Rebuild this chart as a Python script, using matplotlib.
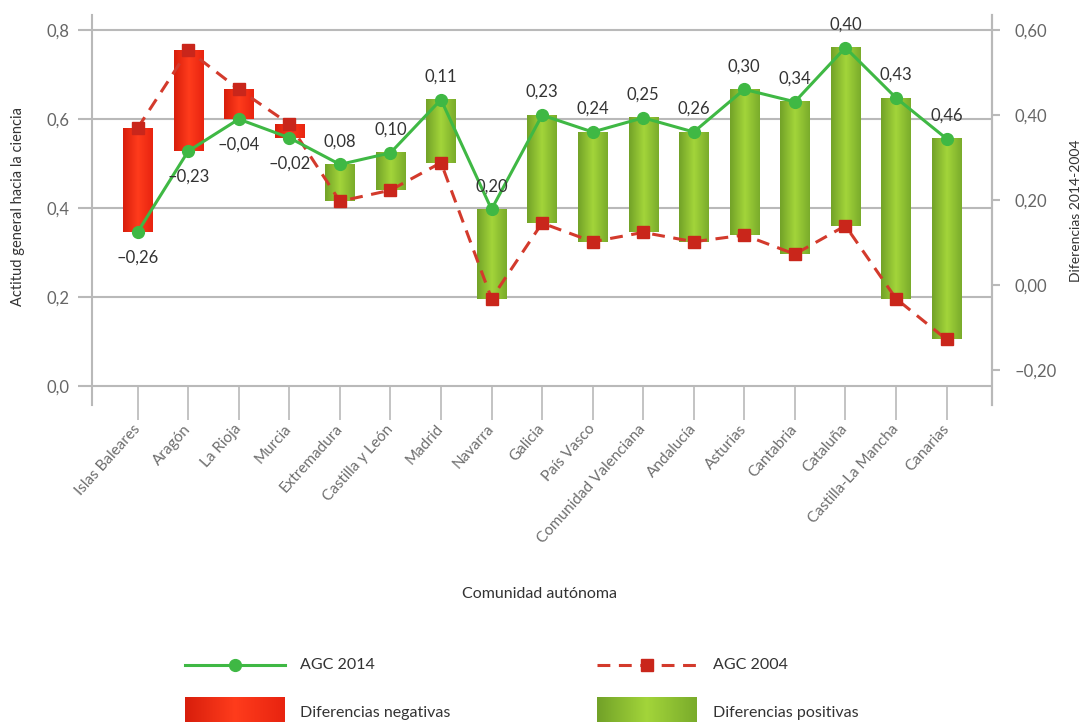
import numpy as np
import matplotlib
matplotlib.use("Agg")
import matplotlib.pyplot as plt
from matplotlib.colors import LinearSegmentedColormap
from matplotlib.lines import Line2D

plt.rcParams['font.family'] = ['Lato', 'DejaVu Sans']

# data
comunidades = ['Islas Baleares', 'Aragón', 'La Rioja', 'Murcia', 'Extremadura',
               'Castilla y León', 'Madrid', 'Navarra', 'Galicia', 'País Vasco',
               'Comunidad Valenciana', 'Andalucía', 'Asturias', 'Cantabria',
               'Cataluña', 'Castilla-La Mancha', 'Canarias']
agc_2014 = [0.346, 0.528, 0.600, 0.558, 0.498, 0.524, 0.644, 0.397, 0.609,
            0.571, 0.603, 0.571, 0.667, 0.639, 0.761, 0.648, 0.556]
agc_2004 = [0.580, 0.755, 0.667, 0.589, 0.415, 0.440, 0.502, 0.196, 0.366,
            0.324, 0.345, 0.324, 0.339, 0.296, 0.360, 0.196, 0.104]
diferencias = [-0.26, -0.23, -0.04, -0.02, 0.08, 0.10, 0.11, 0.20, 0.23,
               0.24, 0.25, 0.26, 0.30, 0.34, 0.40, 0.43, 0.46]
left_ticks = [0.0, 0.2, 0.4, 0.6, 0.8]
right_ticks = [-0.20, 0.00, 0.20, 0.40, 0.60]

GRID = '#b9b9b9'
TXT = '#333333'
TICKTXT = '#666666'
GREEN_LINE = '#3fb844'
RED_LINE = '#d33a2c'
RED_MARK = '#c9261b'
DASH = (0, (4.2, 2.8))

red_cm = LinearSegmentedColormap.from_list('r', ['#d81e0c', '#ff3c1c', '#e82410'])
green_cm = LinearSegmentedColormap.from_list('g', ['#72a228', '#a3d53a', '#7aac2b'])
grad = np.linspace(0, 1, 64)[None, :]

fig = plt.figure(figsize=(10.85, 7.22), dpi=100)
ax = fig.add_axes([0.0845, 0.439, 0.8298, 0.540])
xlim = (-0.91, 16.9)
ylim = (-0.0436, 0.834)

x = np.arange(len(comunidades))
w = 0.58
for xi, a, b, d in zip(x, agc_2014, agc_2004, diferencias):
    cm = red_cm if d < 0 else green_cm
    ax.imshow(grad, cmap=cm, extent=(xi - w / 2, xi + w / 2, min(a, b), max(a, b)),
              aspect='auto', zorder=2, interpolation='bilinear')

ax.plot(x, agc_2004, color=RED_LINE, lw=2.2, ls=DASH, zorder=3)
ax.plot(x, agc_2004, ls='none', marker='s', ms=9, color=RED_MARK, zorder=4)
ax.plot(x, agc_2014, color=GREEN_LINE, lw=2.2, marker='o', ms=8.5, zorder=5)

for xi, a, d in zip(x, agc_2014, diferencias):
    txt = ('%.2f' % d).replace('.', ',').replace('-', '\u2013')
    off = -26 if d < 0 else 23
    ax.annotate(txt, (xi, a), xytext=(0, off), textcoords='offset pixels',
                ha='center', va='center', fontsize=12, color=TXT, zorder=6)

ax.set_xlim(*xlim)
ax.set_ylim(*ylim)

ax.set_yticks(left_ticks)
ax.set_yticklabels([('%.1f' % v).replace('.', ',') for v in left_ticks])
ax.yaxis.grid(True, color=GRID, lw=1.5, zorder=0)
ax.set_axisbelow(True)
ax.tick_params(axis='y', length=10, width=1.5, color=GRID, labelsize=12,
               labelcolor=TICKTXT, pad=6)

ax.spines['bottom'].set_position(('data', 0))
ax.spines['bottom'].set_visible(False)
ax.spines['top'].set_visible(False)
for s in ['left', 'right']:
    ax.spines[s].set_color(GRID)
    ax.spines[s].set_linewidth(1.5)
ax.set_xticks(x)
ax.set_xticklabels(comunidades, rotation=48, ha='right', va='center',
                   rotation_mode='anchor')
ax.tick_params(axis='x', length=24.5, width=1.2, color=GRID, labelsize=11,
               labelcolor='#6e6e6e', pad=5)

ax2 = ax.twinx()
ax2.set_ylim(-0.282, 0.635)
ax2.set_yticks(right_ticks)
ax2.set_yticklabels([('%.2f' % v).replace('.', ',').replace('-', '\u2013')
                     for v in right_ticks])
ax2.tick_params(axis='y', length=6, width=1.5, color=GRID, labelsize=12,
                labelcolor=TICKTXT, pad=10)
for s in ['top', 'bottom', 'left']:
    ax2.spines[s].set_visible(False)
ax2.spines['right'].set_color(GRID)
ax2.spines['right'].set_linewidth(1.5)

fig.text(18 / 1085, 1 - 207 / 722, 'Actitud general hacia la ciencia', rotation=90,
         ha='center', va='center', fontsize=10.5, color=TXT)
fig.text(1076 / 1085, 1 - 211 / 722, 'Diferencias 2014-2004', rotation=90,
         ha='center', va='center', fontsize=10, color=TXT)
fig.text(540 / 1085, 1 - 594 / 722, 'Comunidad autónoma', ha='center', va='center',
         fontsize=11.5, color=TXT)

# legend drawn in pixel space
lg = fig.add_axes([0, 0, 1, 1], zorder=-1)
lg.axis('off')
lg.add_line(Line2D([185, 285], [665, 665], color=GREEN_LINE, lw=2.2))
lg.plot([235], [665], marker='o', ms=8.5, color=GREEN_LINE)
lg.add_line(Line2D([597, 697], [665, 665], color=RED_LINE, lw=2.2, ls=DASH))
lg.plot([647], [665], marker='s', ms=9, color=RED_MARK)
lg.imshow(grad, cmap=red_cm, extent=(185, 285, 724, 697), aspect='auto')
lg.imshow(grad, cmap=green_cm, extent=(597, 697, 724, 697), aspect='auto')
lg.set_xlim(0, 1085)
lg.set_ylim(722, 0)
for tx, ty, s in [(300, 665, 'AGC 2014'), (713, 665, 'AGC 2004'),
                  (300, 713, 'Diferencias negativas'), (713, 713, 'Diferencias positivas')]:
    lg.text(tx, ty, s, ha='left', va='center', fontsize=11.5, color=TXT)

fig.savefig('out.png', dpi=100)
